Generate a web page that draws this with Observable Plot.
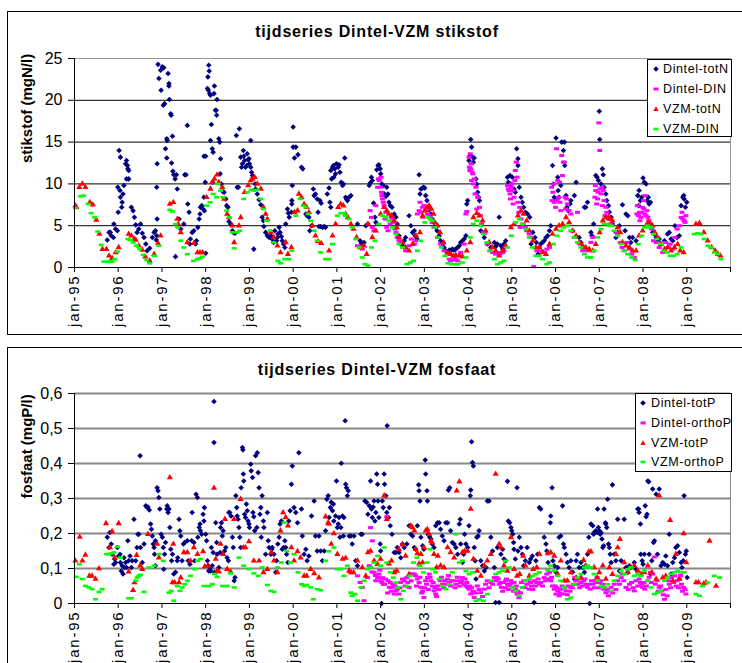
<!DOCTYPE html>
<html><head><meta charset="utf-8">
<script src="https://cdn.jsdelivr.net/npm/d3@7"></script>
<script src="https://cdn.jsdelivr.net/npm/@observablehq/plot@0.6"></script>
<style>
html,body{margin:0;padding:0;background:#fff;width:742px;height:663px;overflow:hidden;font-family:"Liberation Sans",Arial,sans-serif;}
.panel{position:absolute;left:7px;width:760px;border:1px solid #000;background:#fff;}
.panel svg{position:absolute;left:0;top:0;}
.title{position:absolute;left:0;width:738px;text-align:center;font-weight:bold;font-size:16px;line-height:18px;letter-spacing:0.8px;color:#000;}
.legend{position:absolute;border:1px solid #000;background:#fff;font-size:12.5px;color:#000;}
.legend .row{position:absolute;left:0;height:20px;line-height:20px;white-space:nowrap;}
.legend .row svg{position:absolute;left:0;top:0;}
.legend .row span{position:absolute;top:0;letter-spacing:0.6px;}
g[aria-label="x-axis tick label"] text{letter-spacing:1.8px;}
</style>
</head><body>
<div id="p1" class="panel" style="top:11px;height:322px;"></div>
<div id="p2" class="panel" style="top:347px;height:360px;"></div>
<script>
// ---------- axes / labels ----------
const yearTicks = [1995,1996,1997,1998,1999,2000,2001,2002,2003,2004,2005,2006,2007,2008,2009,2010];
const yearLabels = ["jan-95","jan-96","jan-97","jan-98","jan-99","jan-00","jan-01","jan-02","jan-03","jan-04","jan-05","jan-06","jan-07","jan-08","jan-09",""];
const nTicks = [0,5,10,15,20,25];
const nTickLabels = ["0","5","10","15","20","25"];
const pTicks = [0,0.1,0.2,0.3,0.4,0.5,0.6];
const pTickLabels = ["0","0,1","0,2","0,3","0,4","0,5","0,6"];
const titleN = "tijdseries Dintel-VZM stikstof";
const titleP = "tijdseries Dintel-VZM fosfaat";
const yLabelN = ["stikstof (mgN/l)"];
const yLabelP = ["fosfaat (mgP/l)"];
const seriesN = ["Dintel-totN","Dintel-DIN","VZM-totN","VZM-DIN"];
const seriesP = ["Dintel-totP","Dintel-orthoP","VZM-totP","VZM-orthoP"];
const colors = ["#000080","#ff00ff","#ff0000","#00ff00"];

// ---------- stikstof data: [year, value] pairs ----------
const dintelTotN = [
1995.75,3.3,1995.79,4.2,1995.82,4.2,1995.84,3.8,1995.89,3.6,1995.90,5.2,1995.94,4.6,1995.98,4.4,1996.00,6.6,1995.99,9.6,
1996.02,14.0,1996.05,13.2,1996.04,9.2,1996.05,8.4,1996.09,7.8,1996.08,7.2,1996.11,8.8,1996.13,9.8,1996.17,12.4,1996.19,12.8,
1996.21,12.2,1996.22,11.8,1996.24,11.6,1996.19,10.6,1996.24,10.6,1996.30,7.2,1996.34,6.8,1996.37,6.0,1996.40,5.1,1996.43,4.2,
1996.47,4.6,1996.51,5.2,1996.55,4.1,1996.59,3.6,1996.63,2.8,1996.66,2.0,1996.72,2.3,1996.78,3.6,1996.82,4.2,1996.85,4.4,
1996.88,3.8,1996.87,3.3,1996.89,5.8,1996.89,12.4,1996.88,9.6,1996.91,24.3,1996.93,22.6,1996.97,23.6,1996.98,21.2,1997.01,24.0,
1997.04,23.9,1997.03,19.4,1997.06,19.6,1997.08,14.2,1997.11,15.4,1997.11,13.1,1997.12,15.2,1997.14,23.2,1997.16,22.0,1997.16,21.7,
1997.17,20.1,1997.20,18.4,1997.21,18.2,1997.24,15.7,1997.22,12.5,1997.25,11.5,1997.27,11.1,1997.30,10.6,1997.33,11.1,1997.35,9.4,
1997.31,1.3,1997.39,5.8,1997.43,4.6,1997.50,5.2,1997.52,11.1,1997.55,11.1,1997.58,17.0,1997.59,7.6,1997.62,6.6,1997.64,2.8,
1997.65,3.4,1997.69,4.2,1997.73,4.4,1997.77,2.8,1997.79,3.2,1997.82,4.8,1997.85,5.8,1997.87,6.4,1997.88,7.2,1997.91,7.4,
1997.94,7.0,1997.96,8.4,1997.97,6.8,1997.99,10.2,1997.96,13.3,1998.00,13.3,1998.00,1.7,1998.04,21.4,1998.06,21.2,1998.07,24.2,
1998.08,23.5,1998.05,22.8,1998.09,20.8,1998.11,20.6,1998.13,17.1,1998.11,15.2,1998.15,14.2,1998.17,13.8,1998.16,10.2,1998.19,20.8,
1998.20,21.7,1998.22,18.8,1998.24,18.8,1998.26,20.1,1998.25,18.2,1998.30,15.4,1998.32,15.0,1998.33,11.2,1998.34,13.0,1998.36,10.0,
1998.39,9.1,1998.42,9.0,1998.46,8.2,1998.48,7.4,1998.51,7.2,1998.53,5.5,1998.57,5.2,1998.61,4.4,1998.63,4.2,1998.67,4.1,
1998.70,15.8,1998.72,9.6,1998.75,9.6,1998.77,16.6,1998.80,13.2,1998.84,12.4,1998.82,12.0,1998.86,14.0,1998.87,13.3,1998.89,12.8,
1998.91,12.0,1998.94,12.2,1998.95,13.6,1998.97,12.9,1998.99,13.0,1999.00,12.4,1999.03,12.0,1999.05,11.4,1999.03,15.2,1999.07,11.0,
1999.10,10.8,1999.13,10.0,1999.10,2.2,1999.14,9.4,1999.18,8.8,1999.22,8.1,1999.26,7.5,1999.29,6.0,1999.32,5.6,1999.33,4.9,
1999.37,4.2,1999.41,3.8,1999.45,3.6,1999.49,3.8,1999.52,3.4,1999.55,3.0,1999.58,4.4,1999.62,3.2,1999.64,3.6,1999.65,4.0,
1999.68,4.8,1999.70,4.2,1999.73,3.7,1999.75,3.2,1999.78,2.8,1999.81,2.4,1999.83,5.2,1999.87,7.0,1999.89,6.5,1999.91,6.0,
1999.96,6.6,2000.00,16.8,2000.00,14.4,2000.06,14.4,2000.03,13.1,2000.11,13.5,2000.19,12.0,2000.22,11.8,1999.98,9.8,1999.97,8.0,
1999.97,7.6,2000.29,6.4,2000.32,6.2,2000.36,6.0,2000.38,4.4,2000.42,5.0,2000.46,9.4,2000.48,8.6,2000.51,8.8,2000.55,8.2,
2000.57,6.6,2000.61,8.0,2000.64,7.7,2000.59,4.9,2000.63,4.9,2000.67,4.8,2000.71,4.9,2000.74,4.8,2000.78,8.8,2000.82,9.5,
2000.84,7.8,2000.86,7.2,2000.88,10.6,2000.86,11.6,2000.90,12.0,2000.92,12.2,2000.95,11.8,2000.97,11.2,2000.99,12.4,2000.93,10.8,
2001.03,12.0,2001.05,12.3,2001.07,11.4,2001.10,10.2,2001.13,9.8,2001.15,10.0,2001.18,13.1,2001.20,8.4,2001.22,8.2,2001.24,8.0,
2001.28,8.4,2001.32,8.6,2001.47,5.2,2001.53,3.2,2001.56,2.9,2001.62,3.0,2001.66,5.0,2001.71,5.2,2001.74,9.8,2001.76,10.1,
2001.79,10.8,2001.81,10.4,2001.84,7.7,2001.87,6.0,2001.89,5.4,2001.91,11.7,2001.94,12.2,2001.96,12.3,2001.99,11.8,2002.00,11.2,
2002.03,10.0,2002.06,9.8,2002.09,8.8,2002.12,8.5,2002.14,9.6,2002.17,8.8,2002.19,7.8,2002.22,7.4,2002.26,7.2,2002.31,6.4,
2002.35,6.0,2002.38,5.2,2002.42,3.8,2002.46,2.8,2002.50,2.6,2002.54,3.2,2002.57,3.6,2002.65,6.2,2002.69,5.0,2002.73,4.2,
2002.77,4.4,2002.79,3.8,2002.83,3.4,2002.88,11.1,2002.90,8.8,2002.92,9.4,2002.96,9.5,2002.98,9.6,2003.01,9.5,2003.03,8.6,
2003.06,8.0,2003.09,7.2,2003.11,6.9,2003.15,6.4,2003.18,5.8,2003.22,5.4,2003.26,4.8,2003.29,4.4,2003.34,3.8,2003.37,3.2,
2003.41,2.8,2003.45,2.4,2003.49,2.0,2003.53,1.8,2003.57,2.1,2003.60,2.0,2003.64,2.2,2003.68,2.1,2003.72,2.2,2003.76,2.4,
2003.80,2.6,2003.83,3.0,2003.87,3.2,2003.91,3.4,2003.95,3.8,2003.97,7.6,2003.99,8.0,2004.02,12.8,2004.05,13.4,2004.06,15.3,
2004.08,14.4,2004.10,13.2,2004.12,12.6,2004.14,13.1,2004.18,10.6,2004.20,10.0,2004.22,9.0,2004.24,8.4,2004.26,8.0,2004.29,4.4,
2004.37,3.6,2004.44,2.8,2004.52,2.4,2004.60,3.0,2004.63,2.5,2004.67,2.8,2004.71,6.0,2004.75,2.6,2004.79,2.2,2004.82,2.8,
2004.86,3.2,2004.90,10.8,2004.92,10.2,2004.96,11.0,2004.98,10.0,2005.01,10.8,2005.05,9.4,2005.08,9.0,2005.11,14.2,2005.14,13.0,
2005.14,12.2,2005.17,9.6,2005.21,8.4,2005.24,7.8,2005.27,7.2,2005.31,6.6,2005.36,6.4,2005.41,6.0,2005.44,2.8,2005.48,4.2,
2005.53,3.6,2005.56,3.0,2005.60,1.6,2005.66,2.8,2005.70,3.0,2005.74,3.2,2005.78,3.6,2005.82,3.8,2005.86,4.4,2005.89,5.0,
2005.93,12.2,2005.95,10.0,2005.97,8.4,2005.99,8.2,2006.01,15.5,2006.05,10.8,2006.06,9.2,2006.08,8.4,2006.12,9.8,2006.14,15.0,
2006.18,14.0,2006.20,15.0,2006.21,12.2,2006.24,8.6,2006.26,7.2,2006.29,6.8,2006.33,7.6,2006.35,8.0,2006.39,4.4,2006.43,8.6,
2006.47,10.2,2006.54,3.6,2006.58,3.0,2006.62,2.4,2006.66,7.2,2006.69,7.2,2006.73,7.8,2006.81,4.2,2006.83,3.8,2006.87,5.2,
2006.92,11.0,2006.95,10.8,2006.98,10.4,2007.00,18.7,2007.01,15.3,2007.04,10.0,2007.07,11.8,2007.09,11.1,2007.11,9.6,2007.15,8.8,
2007.17,8.0,2007.21,7.4,2007.23,6.6,2007.27,6.0,2007.30,5.2,2007.38,3.6,2007.42,4.2,2007.46,5.0,2007.53,7.5,2007.59,4.4,
2007.61,6.4,2007.65,6.2,2007.69,3.6,2007.72,3.0,2007.76,3.6,2007.84,3.2,2007.88,8.6,2007.90,7.4,2007.91,9.2,2007.94,8.0,
2007.97,8.4,2008.00,10.7,2008.03,10.2,2008.07,10.0,2008.09,8.0,2008.12,8.4,2008.14,7.6,2008.17,7.8,2008.22,4.2,2008.26,4.0,
2008.30,3.6,2008.33,3.2,2008.37,3.4,2008.41,2.8,2008.49,3.2,2008.56,4.0,2008.60,4.2,2008.64,3.4,2008.68,3.2,2008.73,5.0,
2008.78,3.6,2008.83,3.8,2008.87,7.4,2008.91,8.4,2008.93,8.6,2008.94,8.2,2008.97,7.2,2009.00,7.8];

const dintelDIN = [
2001.47,2.6,2001.53,2.4,2001.58,2.2,2001.76,6.8,2001.79,6.0,2001.81,4.8,2001.85,4.4,2001.89,7.4,2001.93,9.6,2001.95,10.6,
2001.97,10.4,2002.00,9.6,2002.02,9.0,2002.04,8.2,2002.08,7.4,2002.10,5.8,2002.14,4.8,2002.17,4.4,2002.22,5.2,2002.25,6.0,
2002.29,5.4,2002.35,4.2,2002.38,3.6,2002.42,3.2,2002.46,3.0,2002.52,2.4,2002.57,2.0,2002.65,2.6,2002.70,3.4,2002.77,2.8,
2002.80,3.2,2002.84,6.4,2002.88,6.8,2002.92,6.6,2002.96,7.2,2002.99,7.4,2003.03,6.8,2003.07,6.4,2003.11,6.2,2003.15,5.8,
2003.18,5.4,2003.22,4.8,2003.30,3.6,2003.37,2.8,2003.45,2.0,2003.53,1.6,2003.57,1.0,2003.60,0.8,2003.64,0.9,2003.68,1.3,
2003.72,1.0,2003.76,0.8,2003.83,1.8,2003.91,2.8,2003.95,6.4,2003.97,6.7,2004.02,13.2,2004.05,13.6,2004.06,11.8,2004.09,11.4,
2004.11,11.2,2004.14,10.6,2004.18,9.6,2004.22,8.4,2004.26,7.2,2004.28,6.2,2004.31,5.2,2004.35,4.2,2004.38,4.1,2004.44,2.8,
2004.50,2.0,2004.56,1.8,2004.63,1.6,2004.67,1.8,2004.71,1.5,2004.75,1.7,2004.79,1.8,2004.82,2.0,2004.90,9.8,2004.94,9.2,
2004.96,8.8,2004.99,9.6,2005.02,9.2,2005.05,8.4,2005.08,11.6,2005.12,10.8,2005.14,7.8,2005.18,7.2,2005.21,5.8,2005.26,5.2,
2005.31,4.8,2005.34,4.4,2005.40,4.0,2005.44,3.6,2005.50,0.1,2005.57,2.0,2005.63,2.4,2005.68,2.0,2005.74,1.8,2005.80,2.2,
2005.86,2.4,2005.91,9.6,2005.94,9.0,2005.97,7.8,2006.00,7.2,2006.02,14.2,2006.05,10.4,2006.07,8.4,2006.10,7.8,2006.12,6.8,
2006.14,13.4,2006.18,12.6,2006.20,12.6,2006.22,8.4,2006.25,8.2,2006.27,7.6,2006.31,6.8,2006.35,6.4,2006.43,3.6,2006.50,6.6,
2006.56,2.8,2006.62,2.0,2006.67,2.2,2006.73,2.0,2006.81,3.0,2006.85,3.6,2006.90,8.4,2006.92,9.2,2006.96,8.2,2006.99,17.3,
2007.01,14.0,2007.04,8.8,2007.06,9.6,2007.09,9.2,2007.11,8.0,2007.15,7.2,2007.17,6.6,2007.21,5.8,2007.25,5.2,2007.38,4.2,
2007.42,3.8,2007.48,3.0,2007.52,2.4,2007.57,2.0,2007.63,3.0,2007.69,2.2,2007.74,1.6,2007.80,1.2,2007.86,6.4,2007.90,6.2,
2007.92,6.6,2007.95,6.0,2007.99,7.2,2008.01,8.0,2008.04,6.4,2008.07,6.2,2008.11,6.0,2008.15,5.2,2008.20,4.6,2008.24,3.2,
2008.30,3.0,2008.37,2.4,2008.45,1.8,2008.52,3.0,2008.58,2.4,2008.62,2.8,2008.68,2.2,2008.73,3.6,2008.78,4.6,2008.83,5.0,
2008.87,6.0,2008.91,5.8,2008.94,5.6,2008.98,6.2,
2002.01,10.8,2002.03,8.6,2002.06,7.8,2002.12,6.6,2002.27,5.8,2002.33,4.6,2002.90,7.8,2002.97,6.0,2003.05,7.0,2004.03,12.0,
2004.04,11.6,2004.07,12.4,2004.08,10.4,2004.12,10.0,2004.16,8.8,2004.20,7.0,2004.92,9.4,2004.97,8.2,2005.00,10.0,2005.03,7.6,
2005.07,10.4,2005.10,12.6,2005.16,6.6,2005.19,4.8,2005.92,8.0,2005.96,10.0,2006.03,8.0,2006.09,10.2,2006.16,11.0,2006.23,7.0,
2006.91,9.8,2006.94,7.6,2006.97,9.0,2007.02,9.4,2007.07,7.4,2007.13,6.2,2007.87,7.4,2007.93,5.6,2007.97,6.6,2008.02,7.0,
2008.05,8.6,2008.09,6.8,2008.13,5.6,2008.89,6.6,2008.96,5.4];

const vzmTotN = [
1995.02,7.4,1995.04,7.2,1995.11,9.6,1995.18,10.0,1995.25,9.6,1995.35,7.8,1995.42,7.5,1995.50,5.7,1995.57,4.0,1995.64,2.2,
1995.73,2.2,1995.79,1.4,1995.86,1.1,1995.94,1.8,1996.01,2.4,1996.24,4.0,1996.30,3.8,1996.36,3.4,1996.40,3.3,1996.47,2.6,
1996.55,2.1,1996.62,1.3,1996.72,0.8,1996.82,1.6,1996.91,2.9,1996.97,3.8,1997.18,7.6,1997.26,7.8,1997.35,5.8,1997.37,5.2,
1997.43,4.2,1997.58,3.0,1997.73,2.9,1997.81,1.8,1997.87,1.8,1997.93,1.8,1998.02,8.4,1998.11,9.4,1998.15,10.2,1998.20,10.6,
1998.26,11.1,1998.30,10.2,1998.38,9.6,1998.42,8.2,1998.49,6.4,1998.53,6.0,1998.61,5.0,1998.65,3.0,1998.76,5.0,1998.80,6.0,
1998.89,9.0,1998.97,9.8,1999.03,10.4,1999.07,10.6,1999.12,10.8,1999.18,10.0,1999.26,9.4,1999.32,7.2,1999.37,6.4,1999.41,5.8,
1999.49,4.2,1999.56,3.6,1999.64,2.6,1999.71,1.8,1999.83,3.0,1999.88,1.6,1999.96,2.4,2000.03,6.6,2000.10,6.8,2000.13,8.8,
2000.19,8.4,2000.25,7.6,2000.31,7.2,2000.36,6.6,2000.44,5.0,2000.51,3.8,2000.57,3.1,2000.64,2.9,2000.82,2.0,2000.90,3.8,
2000.97,5.2,2001.03,7.2,2001.09,7.6,2001.15,7.4,2001.20,6.4,2001.25,6.0,2001.32,5.2,2001.38,4.6,2001.45,3.6,2001.54,2.4,
2001.62,2.6,2001.68,1.6,2001.71,5.2,2001.81,3.6,2001.89,4.4,2002.00,6.4,2002.08,7.2,2002.14,6.8,2002.19,6.4,2002.25,6.2,
2002.31,5.6,2002.37,4.8,2002.42,3.6,2002.50,3.0,2002.57,2.4,2002.65,2.0,2002.73,2.8,2002.81,3.8,2002.90,4.2,2002.96,6.2,
2003.01,6.8,2003.06,7.2,2003.11,7.4,2003.16,7.0,2003.21,6.4,2003.24,5.4,2003.30,5.0,2003.36,4.2,2003.44,3.0,2003.53,1.8,
2003.60,1.6,2003.66,1.4,2003.72,1.5,2003.80,1.4,2003.87,1.3,2003.97,2.0,2004.05,3.0,2004.12,6.0,2004.20,6.5,2004.26,6.2,
2004.33,5.6,2004.40,4.4,2004.48,3.0,2004.56,2.4,2004.63,2.0,2004.71,1.4,2004.79,2.0,2004.86,2.6,2004.98,4.8,2005.05,5.2,
2005.14,6.2,2005.21,6.8,2005.27,6.4,2005.34,5.6,2005.40,4.4,2005.48,3.2,2005.55,2.4,2005.63,2.4,2005.70,1.8,2005.78,1.6,
2005.86,2.8,2005.93,4.0,2006.01,4.6,2006.08,5.0,2006.16,5.2,2006.24,6.0,2006.31,5.4,2006.39,4.4,2006.47,3.8,2006.54,3.0,
2006.62,2.6,2006.69,2.4,2006.77,2.2,2006.85,2.0,2006.92,2.8,2007.01,4.2,2007.08,5.6,2007.15,6.0,2007.21,6.0,2007.25,5.8,
2007.30,5.6,2007.42,4.8,2007.48,4.2,2007.53,3.0,2007.61,2.6,2007.69,2.4,2007.76,2.0,2007.84,2.0,2007.91,3.8,2007.99,4.4,
2008.07,5.0,2008.12,5.4,2008.17,5.2,2008.22,5.0,2008.27,4.2,2008.33,3.6,2008.41,2.8,2008.49,2.2,2008.56,2.4,2008.64,2.0,
2008.72,2.4,2008.79,2.8,2008.85,2.0,2008.93,1.8,2009.21,5.2,2009.29,5.3,2009.39,4.2,2009.48,3.2,2009.57,2.4,2009.65,2.0,
2009.71,1.6,2009.77,1.4];

const vzmDIN = [
1995.02,7.1,1995.14,8.5,1995.21,8.6,1995.31,7.6,1995.38,6.5,1995.46,6.0,1995.53,4.3,1995.61,2.7,1995.67,0.7,1995.75,0.7,
1995.81,0.7,1995.86,0.7,1995.92,1.0,1995.98,1.9,1996.22,3.4,1996.28,3.3,1996.34,3.0,1996.42,2.6,1996.49,2.2,1996.57,1.5,
1996.65,0.9,1996.72,0.5,1996.83,1.4,1996.93,2.6,1997.18,6.9,1997.24,6.7,1997.31,5.2,1997.36,4.8,1997.43,3.2,1997.50,2.4,
1997.58,1.6,1997.72,0.8,1997.81,1.0,1997.87,1.1,1997.92,1.3,1998.02,7.4,1998.10,7.8,1998.17,8.8,1998.25,8.4,1998.28,10.0,
1998.34,9.2,1998.40,8.4,1998.48,6.8,1998.54,6.0,1998.61,4.2,1998.65,2.3,1998.72,4.2,1998.78,4.4,1998.87,8.2,1998.95,9.0,
1999.04,9.3,1999.10,9.2,1999.18,9.3,1999.26,8.2,1999.32,7.0,1999.39,5.6,1999.47,4.4,1999.56,3.0,1999.65,0.8,1999.71,0.5,
1999.81,1.0,1999.90,1.0,1999.97,2.0,2000.06,6.2,2000.16,8.2,2000.23,7.4,2000.29,7.2,2000.34,6.4,2000.40,5.6,2000.48,4.4,
2000.55,3.2,2000.63,1.8,2000.74,1.0,2000.82,1.0,2000.90,2.8,2001.01,6.2,2001.09,6.5,2001.16,6.5,2001.20,6.2,2001.28,5.8,
2001.35,4.8,2001.43,3.4,2001.51,2.4,2001.58,1.2,2001.64,0.4,2001.71,0.2,2001.79,2.4,2001.87,3.2,2001.96,5.2,2002.04,6.2,
2002.12,6.0,2002.19,5.6,2002.27,4.8,2002.35,4.0,2002.42,2.8,2002.50,2.4,2002.60,0.4,2002.68,0.6,2002.75,0.8,2002.84,2.0,
2002.92,3.2,2003.01,5.4,2003.07,6.0,2003.13,5.8,2003.18,5.6,2003.24,4.8,2003.31,3.6,2003.39,2.4,2003.47,1.4,2003.54,0.5,
2003.62,0.4,2003.70,0.4,2003.77,0.4,2003.87,0.6,2003.95,1.2,2004.05,3.6,2004.12,5.2,2004.20,5.6,2004.28,5.0,2004.35,4.0,
2004.43,3.0,2004.50,2.0,2004.60,1.0,2004.67,0.4,2004.75,0.6,2004.82,0.8,2004.90,2.4,2004.99,3.8,2005.09,5.4,2005.17,5.8,
2005.24,5.2,2005.32,4.6,2005.40,3.6,2005.47,2.4,2005.55,1.4,2005.63,1.4,2005.70,1.0,2005.80,0.4,2005.86,0.6,2005.95,2.8,
2006.03,3.8,2006.11,4.4,2006.18,4.8,2006.27,5.0,2006.35,4.4,2006.43,3.6,2006.50,3.0,2006.58,2.4,2006.66,1.6,2006.73,1.2,
2006.81,1.2,2006.88,2.0,2006.96,3.6,2007.04,4.6,2007.11,5.2,2007.17,5.2,2007.23,5.0,2007.28,5.0,2007.34,4.4,2007.42,3.8,
2007.50,2.8,2007.57,2.0,2007.65,1.6,2007.74,1.2,2007.82,0.9,2007.89,2.8,2007.97,3.8,2008.04,4.8,2008.11,5.0,2008.17,4.8,
2008.24,4.0,2008.32,3.4,2008.40,2.8,2008.47,2.0,2008.55,1.8,2008.62,1.4,2008.70,1.4,2008.78,1.6,2008.87,2.4,2009.17,4.0,
2009.25,4.1,2009.33,4.0,2009.40,3.4,2009.48,2.6,2009.55,2.4,2009.63,1.8,2009.71,1.6,2009.78,1.0];

// ---------- fosfaat data: [year, value] pairs ----------
const dintelTotP = [
1995.75,0.189,1995.81,0.203,1995.79,0.16,1995.84,0.17,1995.86,0.141,1995.90,0.112,1995.92,0.127,1995.94,0.117,1995.98,0.16,1996.01,0.136,
1996.04,0.141,1996.05,0.117,1996.07,0.093,1996.09,0.108,1996.11,0.084,1996.13,0.131,1996.14,0.103,1996.17,0.117,1996.19,0.103,1996.22,0.179,
1996.24,0.122,1996.27,0.136,1996.30,0.103,1996.32,0.122,1996.36,0.241,1996.40,0.122,1996.43,0.16,1996.45,0.198,1996.47,0.198,1996.50,0.422,
1996.51,0.16,1996.55,0.117,1996.59,0.17,1996.63,0.279,1996.65,0.276,1996.68,0.276,1996.71,0.267,1996.74,0.227,1996.76,0.212,1996.78,0.193,
1996.80,0.17,1996.82,0.16,1996.83,0.141,1996.85,0.108,1996.85,0.179,1996.89,0.331,1996.91,0.322,1996.93,0.303,1996.95,0.27,1996.98,0.198,
1997.01,0.189,1997.03,0.16,1997.04,0.098,1997.06,0.141,1997.08,0.174,1997.11,0.27,1997.12,0.279,1997.14,0.26,1997.16,0.27,1997.18,0.217,
1997.20,0.155,1997.22,0.122,1997.24,0.141,1997.27,0.084,1997.31,0.089,1997.35,0.122,1997.36,0.131,1997.39,0.241,1997.41,0.208,1997.43,0.193,
1997.46,0.122,1997.49,0.17,1997.52,0.174,1997.58,0.179,1997.60,0.122,1997.64,0.112,1997.68,0.179,1997.69,0.26,1997.73,0.174,1997.75,0.122,
1997.78,0.312,1997.81,0.303,1997.82,0.189,1997.85,0.217,1997.87,0.227,1997.88,0.208,1997.91,0.198,1997.94,0.255,1997.96,0.236,1997.97,0.274,
1998.00,0.198,1998.02,0.179,1998.04,0.122,1998.06,0.108,1998.07,0.093,1998.10,0.098,1998.11,0.093,1998.13,0.16,1998.15,0.108,1998.17,0.146,
1998.19,0.577,1998.19,0.46,1998.20,0.089,1998.23,0.231,1998.25,0.174,1998.26,0.141,1998.30,0.103,1998.33,0.146,1998.34,0.217,1998.36,0.231,
1998.38,0.193,1998.40,0.208,1998.43,0.15,1998.46,0.16,1998.49,0.131,1998.52,0.122,1998.53,0.26,1998.55,0.26,1998.58,0.25,1998.61,0.189,
1998.63,0.16,1998.65,0.065,1998.67,0.074,1998.69,0.308,1998.71,0.274,1998.72,0.25,1998.74,0.241,1998.76,0.217,1998.78,0.189,1998.80,0.16,
1998.81,0.331,1998.84,0.446,1998.85,0.439,1998.86,0.37,1998.87,0.35,1998.89,0.255,1998.91,0.246,1998.93,0.284,1998.95,0.265,1998.97,0.236,
1998.99,0.227,1999.00,0.217,1999.03,0.398,1999.04,0.379,1999.07,0.36,1999.08,0.26,1999.10,0.248,1999.12,0.208,1999.14,0.422,1999.17,0.217,
1999.18,0.431,1999.20,0.374,1999.22,0.331,1999.24,0.255,1999.26,0.274,1999.27,0.189,1999.29,0.308,1999.32,0.236,1999.33,0.217,1999.37,0.141,
1999.41,0.26,1999.43,0.179,1999.45,0.16,1999.49,0.141,1999.51,0.155,1999.52,0.16,1999.56,0.141,1999.60,0.089,1999.62,0.122,1999.65,0.17,
1999.68,0.189,1999.70,0.227,1999.73,0.236,1999.75,0.155,1999.78,0.16,1999.81,0.179,1999.83,0.16,1999.85,0.141,1999.88,0.117,1999.90,0.236,
1999.93,0.265,1999.96,0.341,1999.98,0.393,2000.02,0.274,2000.06,0.26,2000.10,0.231,2000.13,0.431,2000.19,0.27,2000.21,0.193,2000.25,0.141,
2000.29,0.155,2000.32,0.122,2000.36,0.136,2000.42,0.25,2000.48,0.293,2000.51,0.193,2000.55,0.15,2000.59,0.193,2000.63,0.15,2000.67,0.122,
2000.71,0.15,2000.74,0.208,2000.77,0.298,2000.80,0.308,2000.82,0.246,2000.85,0.274,2000.87,0.289,2000.90,0.265,2000.92,0.284,2000.93,0.236,
2000.97,0.25,2000.99,0.35,2001.01,0.217,2001.03,0.227,2001.05,0.246,2001.07,0.189,2001.09,0.217,2001.10,0.401,2001.13,0.25,2001.15,0.193,
2001.16,0.246,2001.19,0.522,2001.20,0.341,2001.22,0.331,2001.24,0.308,2001.26,0.322,2001.28,0.193,2001.32,0.193,2001.35,0.17,2001.39,0.193,
2001.43,0.122,2001.47,0.108,2001.55,0.198,2001.58,0.198,2001.64,0.293,2001.68,0.289,2001.71,0.255,2001.74,0.279,2001.77,0.35,2001.79,0.27,
2001.81,0.246,2001.83,0.276,2001.85,0.293,2001.87,0.236,2001.89,0.26,2001.91,0.37,2001.93,0.341,2001.94,0.293,2001.96,0.246,2001.99,0.17,
2002.00,0.15,2002.02,0.0,2002.04,0.293,2002.06,0.274,2002.08,0.37,2002.09,0.341,2002.12,0.308,2002.14,0.26,2002.15,0.508,2002.18,0.246,
2002.20,0.274,2002.22,0.222,2002.26,0.198,2002.31,0.146,2002.35,0.146,2002.38,0.16,2002.42,0.146,2002.46,0.131,2002.50,0.17,2002.54,0.16,
2002.60,0.17,2002.65,0.222,2002.69,0.198,2002.73,0.193,2002.77,0.16,2002.80,0.155,2002.84,0.222,2002.87,0.339,2002.88,0.322,2002.90,0.293,
2002.92,0.189,2002.96,0.165,2002.99,0.155,2003.02,0.41,2003.03,0.37,2003.06,0.322,2003.07,0.293,2003.09,0.198,2003.12,0.19,2003.15,0.184,
2003.18,0.17,2003.22,0.16,2003.26,0.222,2003.30,0.231,2003.34,0.231,2003.37,0.212,2003.41,0.193,2003.45,0.179,2003.49,0.231,2003.53,0.231,
2003.55,0.324,2003.58,0.331,2003.60,0.208,2003.64,0.174,2003.68,0.17,2003.72,0.16,2003.76,0.141,2003.80,0.227,2003.82,0.241,2003.83,0.17,
2003.87,0.117,2003.90,0.141,2003.92,0.198,2003.95,0.17,2003.99,0.16,2004.02,0.222,2004.05,0.308,2004.06,0.324,2004.08,0.462,2004.10,0.403,
2004.12,0.393,2004.14,0.16,2004.16,0.122,2004.18,0.07,2004.20,0.189,2004.23,0.193,2004.25,0.208,2004.29,0.122,2004.33,0.108,2004.37,0.093,
2004.41,0.103,2004.44,0.293,2004.48,0.293,2004.52,0.189,2004.56,0.15,2004.60,0.103,2004.63,0.003,2004.67,0.16,2004.71,0.003,2004.75,0.141,
2004.79,0.155,2004.82,0.127,2004.86,0.122,2004.90,0.349,2004.92,0.236,2004.95,0.231,2004.98,0.217,2005.00,0.208,2005.02,0.198,2005.04,0.174,
2005.05,0.155,2005.08,0.127,2005.12,0.331,2005.14,0.15,2005.17,0.189,2005.21,0.16,2005.24,0.141,2005.27,0.108,2005.31,0.122,2005.35,0.16,
2005.40,0.117,2005.43,0.127,2005.47,0.136,2005.51,0.003,2005.55,0.122,2005.59,0.141,2005.63,0.274,2005.66,0.27,2005.74,0.189,2005.78,0.17,
2005.80,0.15,2005.83,0.117,2005.88,0.231,2005.89,0.25,2005.92,0.331,2005.94,0.122,2005.97,0.108,2006.01,0.089,2006.05,0.103,2006.08,0.189,
2006.12,0.193,2006.16,0.279,2006.18,0.17,2006.20,0.16,2006.24,0.141,2006.27,0.117,2006.31,0.103,2006.35,0.122,2006.39,0.089,2006.43,0.07,
2006.47,0.122,2006.50,0.141,2006.54,0.103,2006.58,0.117,2006.62,0.103,2006.66,0.089,2006.69,0.108,2006.73,0.141,2006.76,0.189,2006.78,0.0,
2006.81,0.227,2006.85,0.222,2006.87,0.198,2006.88,0.203,2006.92,0.208,2006.95,0.203,2006.96,0.27,2006.98,0.217,2007.00,0.208,2007.02,0.198,
2007.04,0.203,2007.06,0.184,2007.08,0.16,2007.10,0.165,2007.11,0.27,2007.14,0.231,2007.15,0.227,2007.17,0.217,2007.19,0.298,2007.21,0.17,
2007.23,0.16,2007.25,0.141,2007.27,0.117,2007.30,0.339,2007.34,0.141,2007.38,0.122,2007.42,0.241,2007.46,0.093,2007.50,0.122,2007.57,0.241,
2007.61,0.103,2007.65,0.089,2007.69,0.108,2007.72,0.103,2007.80,0.117,2007.84,0.098,2007.88,0.27,2007.90,0.27,2007.91,0.26,2007.94,0.227,
2007.95,0.141,2007.98,0.122,2008.00,0.112,2008.03,0.141,2008.05,0.279,2008.07,0.248,2008.09,0.255,2008.11,0.35,2008.13,0.348,2008.14,0.141,
2008.17,0.084,2008.20,0.122,2008.22,0.327,2008.24,0.174,2008.26,0.179,2008.30,0.312,2008.33,0.141,2008.37,0.327,2008.41,0.108,2008.45,0.117,
2008.49,0.112,2008.52,0.136,2008.56,0.108,2008.60,0.198,2008.64,0.084,2008.68,0.117,2008.72,0.131,2008.75,0.16,2008.79,0.165,2008.83,0.146,
2008.87,0.117,2008.89,0.103,2008.92,0.122,2008.94,0.308,2008.97,0.141,2008.99,0.15,2009.01,0.074];

const dintelOrthoP = [
2001.47,0.079,2001.53,0.06,2001.58,0.046,2001.62,0.008,2001.70,0.074,2001.74,0.108,2001.77,0.217,2001.81,0.179,2001.85,0.089,2001.89,0.065,
2001.93,0.074,2001.96,0.084,2002.00,0.065,2002.04,0.074,2002.06,0.055,2002.09,0.055,2002.14,0.248,2002.17,0.065,2002.20,0.046,2002.22,0.06,
2002.26,0.046,2002.31,0.027,2002.35,0.036,2002.38,0.041,2002.42,0.027,2002.46,0.06,2002.50,0.07,2002.54,0.065,2002.60,0.074,2002.65,0.046,
2002.70,0.065,2002.77,0.084,2002.80,0.079,2002.84,0.07,2002.88,0.06,2002.92,0.046,2002.96,0.036,2002.99,0.017,2003.03,0.065,2003.07,0.074,
2003.11,0.084,2003.15,0.065,2003.18,0.05,2003.22,0.036,2003.26,0.027,2003.30,0.05,2003.36,0.065,2003.41,0.055,2003.47,0.065,2003.53,0.07,
2003.57,0.06,2003.60,0.05,2003.66,0.065,2003.72,0.055,2003.77,0.065,2003.83,0.06,2003.87,0.074,2003.91,0.055,2003.95,0.05,2003.99,0.046,
2004.02,0.041,2004.06,0.027,2004.10,0.031,2004.14,0.017,2004.21,0.05,2004.29,0.031,2004.37,0.041,2004.44,0.065,2004.52,0.06,2004.60,0.074,
2004.66,0.074,2004.71,0.055,2004.76,0.046,2004.81,0.06,2004.86,0.065,2004.90,0.055,2004.94,0.05,2004.98,0.065,2005.02,0.046,2005.05,0.06,
2005.08,0.041,2005.12,0.027,2005.16,0.017,2005.24,0.046,2005.27,0.065,2005.34,0.055,2005.40,0.041,2005.45,0.05,2005.51,0.065,2005.57,0.06,
2005.63,0.055,2005.66,0.06,2005.74,0.074,2005.80,0.084,2005.86,0.089,2005.89,0.065,2005.93,0.05,2005.97,0.041,2006.01,0.027,2006.05,0.036,
2006.08,0.022,2006.12,0.041,2006.18,0.027,2006.24,0.036,2006.29,0.05,2006.35,0.046,2006.41,0.055,2006.47,0.065,2006.52,0.07,2006.58,0.06,
2006.64,0.065,2006.69,0.055,2006.73,0.046,2006.79,0.041,2006.85,0.055,2006.90,0.065,2006.95,0.074,2007.00,0.06,2007.05,0.05,2007.10,0.041,
2007.15,0.031,2007.21,0.022,2007.27,0.046,2007.34,0.055,2007.42,0.065,2007.50,0.074,2007.53,0.084,2007.61,0.046,2007.69,0.055,2007.74,0.06,
2007.80,0.036,2007.88,0.05,2007.94,0.06,2007.99,0.046,2008.04,0.041,2008.11,0.065,2008.17,0.089,2008.22,0.084,2008.26,0.133,2008.32,0.065,
2008.37,0.046,2008.43,0.036,2008.49,0.012,2008.55,0.022,2008.60,0.055,2008.65,0.074,2008.72,0.079,2008.78,0.065,2008.83,0.07,2008.88,0.055,
2008.93,0.046,2008.98,0.027,
2001.80,0.09,2001.88,0.08,2001.98,0.095,2002.03,0.06,2002.11,0.07,2002.16,0.03,2002.24,0.035,2002.28,0.055,2002.33,0.05,2002.44,0.045,
2002.56,0.05,2002.62,0.06,2002.72,0.085,2002.82,0.05,2002.90,0.075,2002.94,0.03,2003.01,0.045,2003.05,0.055,2003.09,0.04,2003.13,0.075,
2003.20,0.06,2003.24,0.045,2003.28,0.02,2003.33,0.04,2003.39,0.075,2003.44,0.045,2003.50,0.055,2003.55,0.08,2003.62,0.065,2003.70,0.045,
2003.75,0.075,2003.81,0.05,2003.85,0.065,2003.93,0.07,2003.97,0.06,2004.04,0.05,2004.08,0.045,2004.12,0.035,2004.17,0.03,2004.25,0.04,
2004.33,0.02,2004.40,0.055,2004.48,0.045,2004.56,0.055,2004.63,0.065,2004.69,0.07,2004.74,0.06,2004.79,0.035,2004.84,0.045,2004.88,0.07,
2004.92,0.04,2004.96,0.055,2005.00,0.06,2005.04,0.035,2005.10,0.05,2005.14,0.035,2005.20,0.03,2005.22,0.06,2005.30,0.045,2005.37,0.065,
2005.43,0.06,2005.48,0.04,2005.54,0.05,2005.60,0.07,2005.70,0.05,2005.77,0.065,2005.84,0.07,2005.91,0.075,2005.99,0.05,2006.03,0.045,
2006.10,0.03,2006.15,0.05,2006.21,0.045,2006.27,0.025,2006.33,0.035,2006.38,0.045,2006.44,0.075,2006.50,0.055,2006.55,0.045,2006.61,0.05,
2006.67,0.07,2006.76,0.055,2006.82,0.065,2006.88,0.045,2006.93,0.06,2006.98,0.045,2007.03,0.065,2007.08,0.055,2007.13,0.045,2007.18,0.04,
2007.24,0.035,2007.31,0.03,2007.38,0.04,2007.46,0.055,2007.56,0.065,2007.66,0.04,2007.77,0.045,2007.84,0.065,2007.91,0.07,2007.97,0.055,
2008.02,0.06,2008.08,0.05,2008.14,0.075,2008.19,0.06,2008.28,0.055,2008.35,0.035,2008.40,0.05,2008.46,0.025,2008.52,0.04,2008.58,0.065,
2008.63,0.045,2008.70,0.06,2008.76,0.05,2008.81,0.045,2008.86,0.08,2008.90,0.035,2008.96,0.04];

const vzmTotP = [
1995.02,0.122,1995.12,0.19,1995.18,0.122,1995.25,0.139,1995.34,0.079,1995.40,0.079,1995.48,0.07,1995.56,0.10,1995.72,0.229,1995.81,0.16,
1995.86,0.206,1995.92,0.131,1996.01,0.229,1996.24,0.091,1996.34,0.038,1996.37,0.06,1996.42,0.138,1996.50,0.108,1996.55,0.098,1996.68,0.198,
1996.89,0.17,1996.93,0.131,1997.18,0.36,1997.24,0.06,1997.29,0.06,1997.26,0.17,1997.39,0.06,1997.43,0.074,1997.50,0.146,1997.58,0.146,
1997.65,0.122,1997.73,0.16,1997.81,0.141,1997.94,0.149,1997.98,0.106,1998.05,0.108,1998.19,0.33,1998.23,0.127,1998.26,0.093,1998.30,0.091,
1998.34,0.17,1998.40,0.141,1998.44,0.241,1998.49,0.098,1998.57,0.091,1998.65,0.241,1998.80,0.298,1998.86,0.16,1998.91,0.16,1998.99,0.177,
1999.10,0.122,1999.22,0.122,1999.32,0.089,1999.41,0.098,1999.50,0.146,1999.56,0.122,1999.64,0.089,1999.71,0.208,1999.77,0.26,1999.83,0.246,
1999.88,0.222,1999.96,0.16,2000.02,0.122,2000.10,0.149,2000.17,0.131,2000.25,0.079,2000.31,0.079,2000.40,0.098,2000.48,0.086,2000.59,0.074,
2000.74,0.248,2000.80,0.231,2000.82,0.227,2000.87,0.17,2000.93,0.2,2001.01,0.141,2001.13,0.127,2001.20,0.13,2001.28,0.093,2001.32,0.089,
2001.38,0.089,2001.47,0.122,2001.58,0.103,2001.66,0.079,2001.71,0.146,2001.77,0.15,2001.85,0.122,2001.93,0.112,2002.00,0.127,2002.08,0.308,
2002.14,0.241,2002.19,0.114,2002.25,0.122,2002.31,0.089,2002.37,0.093,2002.42,0.155,2002.50,0.168,2002.57,0.136,2002.65,0.084,2002.69,0.222,
2002.73,0.217,2002.77,0.208,2002.80,0.155,2002.84,0.143,2002.88,0.114,2002.92,0.141,2002.96,0.117,2002.99,0.16,2003.03,0.208,2003.07,0.212,
2003.11,0.198,2003.15,0.179,2003.18,0.174,2003.22,0.141,2003.28,0.103,2003.31,0.136,2003.37,0.108,2003.45,0.103,2003.53,0.16,2003.60,0.146,
2003.68,0.131,2003.74,0.322,2003.80,0.348,2003.87,0.146,2003.92,0.15,2003.99,0.15,2004.06,0.27,2004.12,0.127,2004.21,0.093,2004.29,0.079,
2004.37,0.108,2004.44,0.122,2004.52,0.141,2004.63,0.37,2004.71,0.17,2004.75,0.16,2004.82,0.108,2004.90,0.093,2004.98,0.189,2005.05,0.098,
2005.12,0.079,2005.18,0.084,2005.26,0.136,2005.31,0.108,2005.40,0.079,2005.49,0.098,2005.57,0.103,2005.63,0.141,2005.82,0.143,2005.89,0.146,
2005.97,0.136,2006.05,0.084,2006.12,0.122,2006.20,0.065,2006.27,0.065,2006.35,0.089,2006.47,0.074,2006.58,0.074,2006.64,0.124,2006.69,0.108,
2006.76,0.148,2006.81,0.148,2006.88,0.103,2006.95,0.074,2007.00,0.089,2007.08,0.108,2007.15,0.07,2007.23,0.103,2007.30,0.084,2007.38,0.141,
2007.42,0.16,2007.47,0.184,2007.57,0.117,2007.65,0.089,2007.72,0.103,2007.80,0.108,2007.88,0.093,2007.95,0.084,2008.03,0.089,2008.11,0.108,
2008.20,0.089,2008.30,0.07,2008.37,0.308,2008.45,0.074,2008.52,0.079,2008.62,0.238,2008.68,0.065,2008.75,0.141,2008.83,0.07,2008.93,0.2,
2008.99,0.117,2009.21,0.06,2009.27,0.06,2009.39,0.057,2009.44,0.06,2009.52,0.179,2009.67,0.05];

const vzmOrthoP = [
1995.04,0.076,1995.11,0.112,1995.18,0.07,1995.25,0.05,1995.33,0.046,1995.40,0.041,1995.48,0.012,1995.56,0.033,1995.63,0.041,1995.73,0.141,
1995.79,0.141,1995.84,0.143,1995.90,0.146,1995.98,0.162,1996.05,0.131,1996.24,0.015,1996.30,0.015,1996.40,0.065,1996.43,0.074,1996.47,0.079,
1996.51,0.082,1996.59,0.033,1996.70,0.103,1996.82,0.108,1996.93,0.141,1997.03,0.122,1997.16,0.031,1997.21,0.036,1997.27,0.008,1997.35,0.05,
1997.41,0.036,1997.46,0.046,1997.52,0.055,1997.58,0.065,1997.65,0.079,1997.75,0.098,1997.81,0.122,1997.88,0.127,1997.96,0.05,1998.07,0.05,
1998.15,0.055,1998.20,0.084,1998.26,0.076,1998.38,0.05,1998.49,0.05,1998.57,0.086,1998.65,0.046,1998.76,0.131,1998.87,0.108,1998.99,0.098,
1999.10,0.086,1999.20,0.079,1999.29,0.103,1999.41,0.053,1999.49,0.036,1999.56,0.033,1999.64,0.103,1999.73,0.117,1999.79,0.231,1999.85,0.15,
1999.94,0.117,2000.02,0.141,2000.11,0.089,2000.19,0.055,2000.25,0.05,2000.31,0.053,2000.40,0.046,2000.46,0.012,2000.55,0.041,2000.63,0.038,
2000.74,0.122,2000.82,0.149,2000.93,0.16,2001.01,0.098,2001.09,0.098,2001.16,0.079,2001.24,0.108,2001.32,0.031,2001.35,0.022,2001.41,0.027,
2001.47,0.008,2001.55,0.046,2001.62,0.065,2001.70,0.098,2001.77,0.103,2001.85,0.117,2001.93,0.136,2002.00,0.108,2002.08,0.16,2002.14,0.117,
2002.22,0.089,2002.29,0.074,2002.35,0.06,2002.40,0.046,2002.46,0.012,2002.52,0.036,2002.60,0.05,2002.67,0.079,2002.75,0.117,2002.83,0.131,
2002.90,0.108,2002.98,0.089,2003.06,0.117,2003.13,0.155,2003.19,0.098,2003.26,0.089,2003.34,0.07,2003.41,0.05,2003.49,0.041,2003.57,0.055,
2003.64,0.089,2003.72,0.198,2003.80,0.117,2003.87,0.122,2003.95,0.093,2004.02,0.084,2004.10,0.089,2004.18,0.008,2004.25,0.012,2004.35,0.008,
2004.44,0.027,2004.53,0.065,2004.63,0.084,2004.71,0.089,2004.79,0.093,2004.86,0.122,2004.94,0.103,2005.02,0.046,2005.09,0.036,2005.17,0.022,
2005.24,0.046,2005.31,0.065,2005.40,0.07,2005.47,0.079,2005.55,0.084,2005.63,0.089,2005.82,0.095,2005.89,0.108,2005.97,0.093,2006.05,0.079,
2006.12,0.065,2006.20,0.046,2006.27,0.012,2006.35,0.017,2006.43,0.055,2006.50,0.074,2006.58,0.084,2006.66,0.103,2006.73,0.108,2006.81,0.103,
2006.88,0.084,2006.96,0.065,2007.04,0.05,2007.11,0.046,2007.19,0.055,2007.27,0.036,2007.34,0.065,2007.42,0.079,2007.50,0.093,2007.57,0.084,
2007.65,0.098,2007.72,0.103,2007.80,0.079,2007.88,0.084,2007.95,0.079,2008.03,0.093,2008.11,0.065,2008.18,0.046,2008.26,0.027,2008.33,0.031,
2008.41,0.036,2008.49,0.065,2008.56,0.074,2008.64,0.084,2008.72,0.089,2008.79,0.093,2008.87,0.089,2008.94,0.089,2009.21,0.027,2009.29,0.022,
2009.36,0.05,2009.48,0.06,2009.63,0.079,2009.75,0.074];

// ---------- build ----------
function pairs(a){const out=[];for(let i=0;i<a.length;i+=2)out.push({x:a[i],y:a[i+1]});return out;}
const FONT = "Liberation Sans, Arial, sans-serif";
const box = (w,h) => ({draw(c){c.moveTo(-w/2,-h/2);c.lineTo(w/2,-h/2);c.lineTo(w/2,h/2);c.lineTo(-w/2,h/2);c.closePath();}});

function makeChart(o){
  const [s0,s1,s2,s3] = o.data.map(pairs);
  const t = o.ticks;
  return Plot.plot({
    width: 734, height: 321,
    marginLeft: 66, marginRight: 12, marginTop: o.marginTop, marginBottom: 66,
    style: {fontFamily: FONT, fontSize: "15px", color: "#000", background: "none", overflow: "visible"},
    x: {domain: [yearTicks[0], yearTicks[yearTicks.length-1]]},
    y: {domain: [t[0], t[t.length-1]]},
    marks: [
      Plot.ruleY(t.slice(1,-1), {stroke: o.gridColor, strokeWidth: o.gridWidth}),
      Plot.ruleY(t.slice(-1), {stroke: o.frameColor, strokeWidth: o.gridWidth}),
      Plot.ruleX(yearTicks.slice(-1), {stroke: o.frameColor, strokeWidth: 1}),
      Plot.dot(s0, {x:"x", y:"y", symbol:"diamond2", r:2.5, fill: colors[0], stroke:"none"}),
      Plot.dot(s1, {x:"x", y:"y", symbol: box(5,3), fill: colors[1], stroke:"none"}),
      Plot.dot(s2, {x:"x", y:"y", symbol:"triangle", r:2.3, fill: colors[2], stroke:"none"}),
      Plot.dot(s3, {x:"x", y:"y", symbol: box(5,2.6), fill: colors[3], stroke:"none"}),
      Plot.ruleX(yearTicks.slice(0,1), {stroke:"#000"}),
      Plot.ruleY(t.slice(0,1), {stroke:"#000"}),
      Plot.axisY({ticks: t, tickFormat: d => o.tickLabels[t.indexOf(d)], tickSize: 6, tickPadding: 6, fontSize: 16, label: null}),
      Plot.axisX({ticks: yearTicks, tickFormat: d => yearLabels[yearTicks.indexOf(d)], tickRotate: -90, tickSize: 5, tickPadding: 2, fontSize: 15, label: null}),
      Plot.text(o.yLabel, {frameAnchor: "left", rotate: -90, dx: -47, fontWeight: "bold", fontSize: 15})
    ]
  });
}

function markerSvg(i){
  const c = colors[i];
  const shapes = [
    `<path d="M0,-2.8L2.8,0L0,2.8L-2.8,0Z" fill="${c}"/>`,
    `<rect x="-2.5" y="-1.5" width="5" height="3" fill="${c}"/>`,
    `<path d="M0,-2.8L2.6,2L-2.6,2Z" fill="${c}"/>`,
    `<rect x="-2.5" y="-1.3" width="5" height="2.6" fill="${c}"/>`
  ];
  return shapes[i];
}

function addLegend(panel, names, o){
  const lg = document.createElement("div");
  lg.className = "legend";
  Object.assign(lg.style, {left:o.left+"px", top:o.top+"px", width:o.w+"px", height:o.h+"px"});
  names.forEach((n,i) => {
    const row = document.createElement("div");
    row.className = "row";
    row.style.top = (o.centers[i]-10)+"px";
    row.innerHTML = `<svg width="16" height="20"><g transform="translate(${o.mx},10)">${markerSvg(i)}</g></svg><span style="left:${o.tx}px">${n}</span>`;
    lg.appendChild(row);
  });
  panel.appendChild(lg);
}

function addTitle(panel, text, top){
  const d = document.createElement("div");
  d.className = "title"; d.style.top = top+"px"; d.textContent = text;
  panel.appendChild(d);
}

const p1 = document.getElementById("p1");
p1.appendChild(makeChart({data:[dintelTotN,dintelDIN,vzmTotN,vzmDIN], ticks:nTicks, tickLabels:nTickLabels, yLabel:yLabelN,
  gridColor:"#000", gridWidth:1, frameColor:"#999", marginTop:46}));
addTitle(p1, titleN, 11);
addLegend(p1, seriesN, {left:639, top:47, w:83, h:76, centers:[9,29,49,69], mx:8, tx:15});

const p2 = document.getElementById("p2");
p2.appendChild(makeChart({data:[dintelTotP,dintelOrthoP,vzmTotP,vzmOrthoP], ticks:pTicks, tickLabels:pTickLabels, yLabel:yLabelP,
  gridColor:"#888", gridWidth:2, frameColor:"#888", marginTop:45}));
addTitle(p2, titleP, 13);
addLegend(p2, seriesP, {left:627, top:45, w:95, h:77, centers:[9,29,49,68], mx:7, tx:15});
</script>
</body></html>
